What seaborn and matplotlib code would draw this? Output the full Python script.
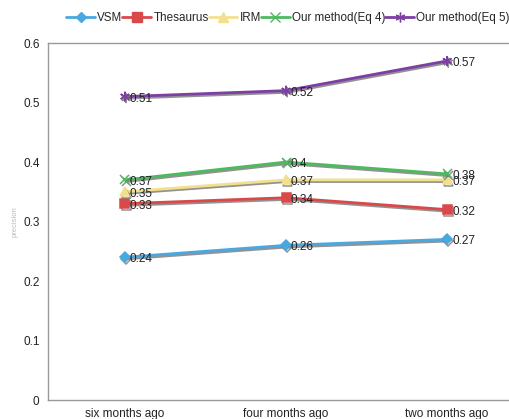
import pandas as pd
import numpy as np
import matplotlib
matplotlib.use('Agg')
import matplotlib.pyplot as plt
import matplotlib.patheffects as pe
from matplotlib.lines import Line2D
import seaborn as sns

# data
periods = ['six months ago', 'four months ago', 'two months ago']
methods = ['VSM', 'Thesaurus', 'IRM', 'Our method(Eq 4)', 'Our method(Eq 5)']
vsm = [0.24, 0.26, 0.27]
thesaurus = [0.33, 0.34, 0.32]
irm = [0.35, 0.37, 0.37]
eq4 = [0.37, 0.40, 0.38]
eq5 = [0.51, 0.52, 0.57]
yticks = [0, 0.1, 0.2, 0.3, 0.4, 0.5, 0.6]

colors = ['#4aa8e0', '#d9494a', '#f3e08c', '#4dba5f', '#7d3fa3']
markers = ['D', 's', '^', 'x', (6, 2, 0)]
msizes = [5, 6.5, 6.5, 6.5, 7]

df = pd.DataFrame({
    'period': periods * 5,
    'method': np.repeat(methods, 3),
    'precision': vsm + thesaurus + irm + eq4 + eq5,
})

sns.set_style('white')
plt.rcParams['font.family'] = ['Liberation Sans', 'DejaVu Sans']

fig = plt.figure(figsize=(5.1, 4.19), dpi=100)
ax = fig.add_axes([0.094, 0.0453, 0.906, 0.852])

shadow = [pe.SimpleLineShadow(offset=(0.8, -1.2), shadow_color='#777777', alpha=0.8), pe.Normal()]

for m, c, mk, ms in zip(methods, colors, markers, msizes):
    sub = df[df['method'] == m]
    sns.lineplot(data=sub, x='period', y='precision', color=c, marker=mk,
                 markersize=ms, markeredgecolor=c, markeredgewidth=1.1,
                 linewidth=2, ax=ax, legend=False, sort=False)
    ax.lines[-1].set_path_effects(shadow)
    for i, v in enumerate(sub['precision']):
        ax.annotate(f'{v:g}', (i, v), xytext=(3.5, -1.5), textcoords='offset points',
                    ha='left', va='center', fontsize=8.5, color='#222222')

ax.set_xlim(-0.478, 2.39)
ax.set_ylim(0, 0.6)
ax.set_yticks(yticks)
ax.set_yticklabels([f'{t:g}' for t in yticks])
ax.tick_params(axis='both', length=0, labelsize=8.5, colors='#222222')
ax.tick_params(axis='y', pad=6)
ax.tick_params(axis='x', pad=6)
ax.set_xlabel('')
ax.set_ylabel('precision', fontsize=5.5, color='#bbbbbb', labelpad=3)
for s in ['left', 'bottom', 'top']:
    ax.spines[s].set_color('#999999')
    ax.spines[s].set_linewidth(1)
ax.spines['right'].set_visible(False)

handles = [Line2D([0], [0], color=c, marker=mk, markersize=ms, markeredgecolor=c, linewidth=2)
           for c, mk, ms in zip(colors, markers, msizes)]
fig.legend(handles, methods, loc='center left', bbox_to_anchor=(0.13, 0.958), ncol=5, frameon=False,
           fontsize=8.4, handlelength=2.45, handletextpad=0.2, columnspacing=0.0, borderaxespad=0,
           borderpad=0)

fig.savefig('out.png', dpi=100)
